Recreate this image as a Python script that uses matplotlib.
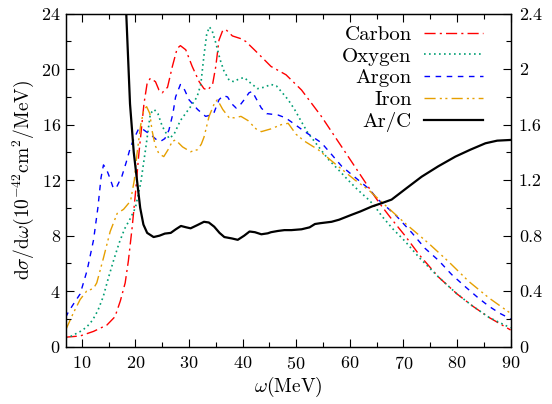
import matplotlib
matplotlib.use("Agg")
import matplotlib.pyplot as plt
from matplotlib.ticker import MultipleLocator, FuncFormatter

plt.rcParams['font.family'] = 'serif'
plt.rcParams['font.serif'] = ['cmr10']
plt.rcParams['mathtext.fontset'] = 'cm'
plt.rcParams['axes.formatter.use_mathtext'] = True

# ---- data ----
carbon_w = [7, 9.7, 12.2, 14.7, 16.2, 17.2, 18.1, 18.7, 19.4, 20.0, 20.6, 21.0, 21.6, 22.2, 22.8, 23.75, 24.4,
            25.0, 26.0, 26.9, 27.8, 28.4, 29.4, 30.6, 31.9, 32.8, 33.5, 34.4, 35.0, 35.6, 36.3, 36.9, 38.1,
            39.7, 40.6, 42.2, 43.5, 45.3, 48.1, 51.0, 54.7, 58.5, 62.2, 64.7, 66.0, 68.0, 70.3, 73.0, 76.6,
            80.0, 83.0, 86.0, 90.0]
carbon_v = [0.68, 0.77, 1.1, 1.56, 2.16, 3.3, 4.6, 6.2, 8.6, 11.0, 13.7, 15.2, 17.5, 19.0, 19.35, 19.1, 18.5,
            18.3, 18.7, 20.2, 21.5, 21.7, 21.4, 20.2, 19.1, 18.6, 18.5, 18.9, 20.2, 22.1, 22.8, 22.85, 22.4,
            22.2, 22.0, 21.4, 20.9, 20.2, 19.6, 18.5, 16.6, 14.4, 12.25, 10.8, 10.1, 9.1, 8.0, 6.6, 5.0,
            3.8, 2.9, 2.1, 1.2]

oxygen_w = [7, 8, 9, 10, 11, 12, 13, 14, 15, 16, 17, 18, 19, 20, 21, 22, 22.8, 23.5, 24.2, 25, 26.3, 27.2,
            28.4, 30.3, 31.5, 32.2, 32.8, 33.3, 33.8, 34.3, 35.0, 35.8, 36.5, 37.5, 38.4, 39.3, 40.3, 41.5,
            42.8, 44.0, 45.3, 46.3, 47.2, 48.5, 49.7, 51.0, 52.2, 54.0, 56.0, 58.0, 59.7, 61.5, 63.5, 64.5,
            66.0, 68.0, 70.3, 73.0, 76.6, 80.0, 83.0, 86.0, 90.0]
oxygen_v = [0.65, 0.75, 0.95, 1.15, 1.45, 1.9, 2.6, 3.6, 5.0, 6.3, 7.5, 8.5, 9.2, 10.0, 11.8, 14.5, 16.8,
            17.1, 16.8, 15.9, 15.0, 15.3, 16.3, 17.3, 18.0, 18.9, 21.0, 22.5, 23.05, 22.8, 21.9, 20.7, 19.9,
            19.2, 19.1, 19.3, 19.4, 19.0, 18.6, 18.7, 18.9, 18.8, 18.4, 17.8, 17.1, 16.2, 15.4, 14.5, 13.5,
            12.7, 12.0, 11.3, 10.6, 10.2, 9.4, 8.5, 7.6, 6.4, 5.0, 3.8, 2.9, 2.1, 1.35]

argon_w = [7, 7.5, 8.5, 9.7, 11, 12.2, 13, 13.6, 14.05, 14.6, 15.3, 15.9, 16.5, 17.5, 18.3, 19.1, 20.0, 20.6,
           21.3, 22.0, 22.8, 24.0, 24.7, 25.5, 26.25, 27.0, 27.5, 28.4, 29.2, 30.0, 31.6, 33.1, 34.1, 34.7,
           35.6, 36.4, 37.2, 38.0, 38.8, 39.5, 40.3, 41.2, 41.8, 42.5, 43.5, 44.5, 46.6, 48.0, 49.1, 51.6,
           54.7, 56.5, 58.5, 61.0, 63.5, 65.3, 68.5, 71.6, 74.0, 76.6, 79.0, 81.6, 84.0, 86.0, 88.0, 90.0]
argon_v = [2.1, 2.5, 3.1, 3.8, 5.5, 7.7, 10.0, 12.2, 13.1, 12.8, 12.1, 11.4, 11.5, 12.3, 13.3, 14.4, 15.2, 15.7,
           15.7, 15.5, 15.3, 14.9, 14.8, 15.0, 15.6, 16.8, 18.0, 18.9, 18.5, 17.8, 17.1, 16.6, 16.7, 16.9,
           17.8, 18.1, 18.0, 17.5, 17.2, 17.4, 17.8, 18.3, 18.4, 17.9, 17.2, 16.8, 16.7, 16.5, 16.2, 15.5,
           14.7, 13.9, 13.0, 12.2, 11.4, 10.6, 9.5, 8.2, 7.1, 6.2, 5.2, 4.3, 3.5, 2.9, 2.4, 2.0]

iron_w = [7, 8.4, 9.7, 10.9, 12.2, 12.8, 14.05, 15.3, 16.6, 17.8, 19.1, 19.8, 20.3, 21.0, 21.6, 22.1, 22.7,
          23.1, 23.7, 24.4, 25.3, 26.1, 26.9, 27.5, 28.8, 30.3, 31.6, 32.3, 32.8, 33.75, 34.7, 35.3, 36.3,
          37.5, 38.5, 39.7, 41.0, 42.5, 43.5, 45.3, 47.2, 48.5, 50.0, 51.6, 54.1, 57.2, 61.0, 63.5, 66.6,
          70.3, 74.7, 78.5, 82.2, 86.0, 90.0]
iron_v = [1.2, 2.4, 3.4, 4.0, 4.2, 4.6, 6.4, 8.3, 9.6, 9.9, 10.5, 12.0, 13.9, 16.0, 17.1, 17.3, 16.8,
          15.6, 14.5, 13.9, 13.7, 14.2, 14.8, 14.9, 14.4, 14.05, 14.2, 14.6, 15.1, 16.6, 17.5, 17.8, 17.1,
          16.5, 16.5, 16.6, 16.3, 15.7, 15.5, 15.7, 16.0, 16.1, 15.3, 14.8, 14.2, 13.2, 12.0, 11.3, 10.2,
          8.9, 7.45, 6.1, 4.7, 3.5, 2.4]

ratio_w = [17.9, 18.3, 19.0, 19.7, 20.3, 20.9, 21.5, 22.2, 23.4, 24.5, 25.5, 26.6, 27.5, 28.5, 29.5, 30.3,
           31.5, 32.8, 33.7, 34.7, 35.7, 36.6, 38.0, 39.1, 40.3, 41.3, 42.3, 43.5, 44.7, 45.3, 46.6, 47.8,
           49.1, 51.0, 52.5, 53.5, 54.5, 56.6, 58.0, 60.3, 62.0, 64.1, 66.0, 67.8, 70.5, 73.4, 76.5, 79.7,
           82.5, 85.3, 87.5, 90.0]
ratio_v = [2.6, 2.4, 1.75, 1.4, 1.2, 1.0, 0.88, 0.82, 0.79, 0.80, 0.815, 0.82, 0.845, 0.87, 0.86, 0.853,
           0.875, 0.9, 0.895, 0.865, 0.82, 0.79, 0.78, 0.77, 0.8, 0.83, 0.825, 0.81, 0.817, 0.825, 0.834, 0.84,
           0.84, 0.846, 0.86, 0.884, 0.89, 0.90, 0.915, 0.95, 0.975, 1.01, 1.035, 1.06, 1.14, 1.225, 1.30, 1.37,
           1.42, 1.466, 1.485, 1.49]

labels = ['Carbon', 'Oxygen', 'Argon', 'Iron', 'Ar/C']
left_ticks = [0, 4, 8, 12, 16, 20, 24]
right_ticks = [0, 0.4, 0.8, 1.2, 1.6, 2.0, 2.4]
x_ticks = [10, 20, 30, 40, 50, 60, 70, 80, 90]

# ---- figure ----
fig = plt.figure(figsize=(5.52, 4.04), dpi=100)
ax = fig.add_axes([0.119, 0.142, 0.806, 0.824])
ax2 = ax.twinx()

red = '#ff0000'
green = '#009e73'
blue = '#0000ff'
orange = '#e69f00'

l1, = ax.plot(carbon_w, carbon_v, color=red, lw=1.0, ls=(0, (8, 3, 1.5, 3)), label=labels[0])
l2, = ax.plot(oxygen_w, oxygen_v, color=green, lw=1.2, ls=(0, (1, 2)), label=labels[1])
l3, = ax.plot(argon_w, argon_v, color=blue, lw=1.0, ls=(0, (4, 4)), label=labels[2])
l4, = ax.plot(iron_w, iron_v, color=orange, lw=1.0, ls=(0, (8, 3, 1.5, 2.5, 1.5, 3)), label=labels[3])
l5, = ax2.plot(ratio_w, ratio_v, color='black', lw=1.6, label=labels[4])

ax.set_xlim(7, 90)
ax.set_ylim(0, 24)
ax2.set_ylim(0, 2.4)

ax.set_xticks(x_ticks)
ax.xaxis.set_minor_locator(MultipleLocator(5))
ax.set_yticks(left_ticks)
ax.yaxis.set_minor_locator(MultipleLocator(2))
ax2.set_yticks(right_ticks)
ax2.yaxis.set_minor_locator(MultipleLocator(0.2))
ax2.yaxis.set_major_formatter(FuncFormatter(lambda v, p: '%g' % v))

ax.tick_params(which='both', direction='in', top=True, right=False, labelsize=13, width=0.8)
ax.tick_params(which='major', length=6)
ax.tick_params(which='minor', length=3.5)
ax.tick_params(axis='x', pad=6)
ax2.tick_params(which='both', direction='in', labelsize=13, width=0.8)
ax2.tick_params(which='major', length=6, pad=6)
ax2.tick_params(which='minor', length=3.5)

for a in (ax, ax2):
    for s in a.spines.values():
        s.set_linewidth(0.9)

ax.set_xlabel(r'$\omega$(MeV)', fontsize=14, labelpad=2)
ax.set_ylabel(r'$\mathrm{d}\sigma/\mathrm{d}\omega(10^{-42}\mathrm{cm}^2/\mathrm{MeV})$', fontsize=14, labelpad=4)

leg = ax2.legend([l1, l2, l3, l4, l5], labels, loc='upper right', bbox_to_anchor=(0.956, 0.99),
                 frameon=False, markerfirst=False, fontsize=15, handlelength=2.8, handletextpad=0.6,
                 labelspacing=0.15, borderaxespad=0)
for t in leg.get_texts():
    t.set_ha('right')

fig.savefig('out.png', dpi=100)
